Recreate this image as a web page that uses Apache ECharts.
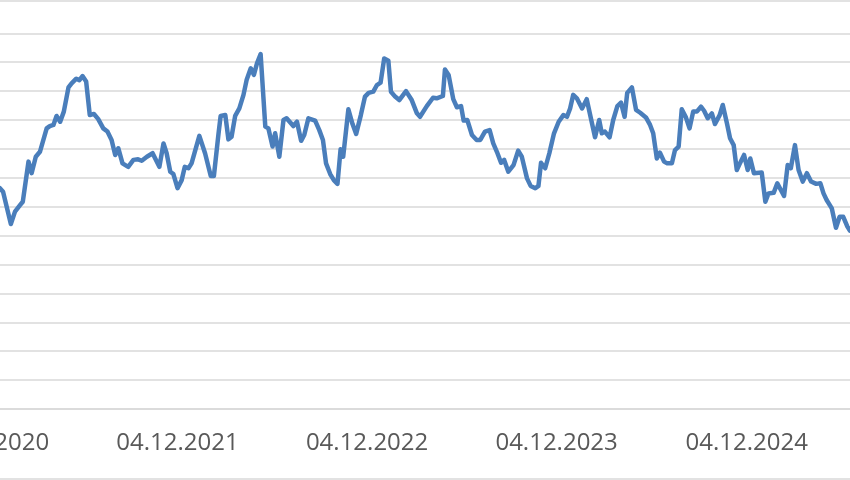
<!DOCTYPE html>
<html>
<head>
<meta charset="utf-8">
<script src="https://cdn.jsdelivr.net/npm/echarts@6/dist/echarts.min.js"></script>
<style>
  html, body { margin: 0; padding: 0; background: #fff; }
  #chart { width: 850px; height: 480px; }
</style>
</head>
<body>
<div id="chart"></div>
<script>
// days after 04.12.2020 (start of the first labelled year)
const dayOffsets = [
  23, 29, 44, 52, 62, 67, 78, 84, 92, 100,
  113, 119, 126, 132, 139, 146, 155, 161, 170, 176,
  182, 189, 196, 204, 212, 222, 230, 238, 245, 251,
  259, 270, 280, 289, 296, 306, 317, 330, 338, 344,
  351, 357, 365, 373, 379, 386, 392, 407, 418, 429,
  435, 444, 448, 457, 463, 469, 476, 484, 492, 498,
  506, 512, 518, 525, 534, 540, 548, 553, 561, 569,
  575, 588, 595, 603, 609, 617, 630, 638, 645, 651,
  659, 666, 673, 679, 684, 694, 702, 709, 718, 726,
  733, 742, 749, 756, 763, 771, 776, 784, 792, 805,
  816, 826, 832, 845, 857, 864, 876, 880, 887, 896,
  903, 911, 916, 923, 932, 941, 948, 957, 966, 973,
  980, 988, 994, 1002, 1012, 1021, 1028, 1038, 1045, 1054,
  1060, 1065, 1073, 1081, 1090, 1099, 1108, 1115, 1121, 1127,
  1134, 1144, 1153, 1161, 1169, 1177, 1182, 1188, 1197, 1204,
  1212, 1219, 1226, 1231, 1240, 1248, 1256, 1267, 1275, 1281,
  1288, 1294, 1302, 1308, 1317, 1323, 1330, 1336, 1344, 1351,
  1358, 1365, 1373, 1379, 1386, 1394, 1400, 1409, 1415, 1423,
  1429, 1436, 1442, 1448, 1456, 1463, 1468, 1475, 1490, 1497,
  1503, 1513, 1520, 1533, 1540, 1546, 1554, 1561, 1569, 1577,
  1585, 1595, 1603, 1609, 1615, 1625, 1633, 1640, 1647, 1655,
  1660
];

const values = [
  76.4, 75.2, 64.0, 68.3, 70.6, 71.7, 85.6, 81.6, 87.3, 89.0,
  97.1, 97.9, 98.3, 101.4, 99.4, 102.9, 111.3, 112.7, 114.3, 113.8,
  115.2, 113.3, 101.7, 102.1, 100.4, 97.1, 96.0, 93.1, 87.9, 90.2,
  85.0, 83.8, 86.2, 86.4, 85.9, 87.3, 88.5, 83.8, 91.9, 88.5,
  82.1, 81.3, 76.4, 79.2, 83.8, 83.3, 85.0, 94.5, 88.5, 80.6,
  80.6, 95.4, 101.4, 101.7, 93.3, 94.2, 101.4, 104.0, 108.7, 113.8,
  117.9, 115.6, 119.6, 122.8, 97.7, 97.1, 90.8, 95.4, 87.3, 100.0,
  100.6, 97.9, 99.4, 92.8, 94.8, 100.6, 99.8, 96.5, 93.1, 85.0,
  81.3, 79.2, 77.9, 89.9, 87.3, 103.7, 98.6, 95.2, 101.7, 108.1,
  109.4, 109.8, 112.1, 112.9, 121.3, 120.5, 109.8, 108.1, 106.9, 110.0,
  106.9, 102.3, 101.1, 104.8, 107.7, 107.5, 108.3, 117.5, 115.6, 107.2,
  104.4, 104.8, 99.8, 100.0, 94.8, 93.1, 93.1, 96.0, 96.5, 91.9,
  89.0, 85.2, 86.2, 82.1, 84.4, 89.4, 87.3, 79.8, 77.2, 76.4,
  77.2, 85.2, 83.3, 88.5, 95.4, 99.4, 101.7, 101.1, 104.0, 108.7,
  107.5, 104.0, 107.2, 100.6, 94.0, 100.0, 95.4, 96.0, 94.0, 100.0,
  104.8, 106.0, 101.1, 109.4, 111.3, 103.5, 102.5, 100.9, 98.3, 95.4,
  86.7, 88.7, 85.6, 85.0, 85.0, 89.6, 90.8, 103.7, 100.9, 97.1,
  102.9, 102.9, 104.6, 103.2, 100.6, 102.3, 98.6, 101.7, 105.2, 98.9,
  93.7, 91.3, 82.7, 85.0, 87.9, 82.7, 86.7, 81.6, 81.8, 71.7,
  74.6, 74.8, 78.1, 73.7, 84.4, 83.3, 91.3, 82.7, 78.7, 81.6,
  78.7, 77.9, 78.1, 74.6, 72.3, 69.4, 62.7, 66.5, 66.5, 63.1,
  61.7
];

const tickDays = [0, 365, 730, 1095, 1461];
const tickLabels = ['04.12.2020', '04.12.2021', '04.12.2022', '04.12.2023', '04.12.2024'];

const seriesData = dayOffsets.map((d, i) => [d, values[i]]);

const chart = echarts.init(document.getElementById('chart'));

chart.setOption({
  animation: false,
  backgroundColor: '#ffffff',
  grid: {
    left: -12,
    right: 0,
    top: 33.3,
    bottom: 71,
    containLabel: false,
    outerBoundsMode: 'none'
  },
  xAxis: {
    type: 'value',
    min: 0,
    max: 1660,
    axisLine: { show: true, lineStyle: { color: '#d9d9d9', width: 1.5 } },
    axisTick: { show: false },
    splitLine: { show: false },
    axisLabel: {
      customValues: tickDays,
      formatter: (v) => tickLabels[tickDays.indexOf(v)] || '',
      color: '#595959',
      fontFamily: 'Open Sans',
      fontSize: 24,
      margin: 22
    }
  },
  yAxis: {
    type: 'value',
    min: 0,
    max: 130,
    interval: 10,
    axisLine: { show: false },
    axisTick: { show: false },
    axisLabel: { show: false },
    splitLine: { lineStyle: { color: '#d9d9d9', width: 1.5 } }
  },
  graphic: [
    {
      type: 'line',
      shape: { x1: 0, y1: 1, x2: 850, y2: 1 },
      style: { stroke: '#d9d9d9', lineWidth: 1.5 }
    },
    {
      type: 'line',
      shape: { x1: 0, y1: 479, x2: 850, y2: 479 },
      style: { stroke: '#d9d9d9', lineWidth: 1.5 }
    }
  ],
  series: [
    {
      type: 'line',
      data: seriesData,
      showSymbol: false,
      clip: true,
      lineStyle: { color: '#4a7ebb', width: 4.5, join: 'round', cap: 'round' }
    }
  ]
});
</script>
</body>
</html>
